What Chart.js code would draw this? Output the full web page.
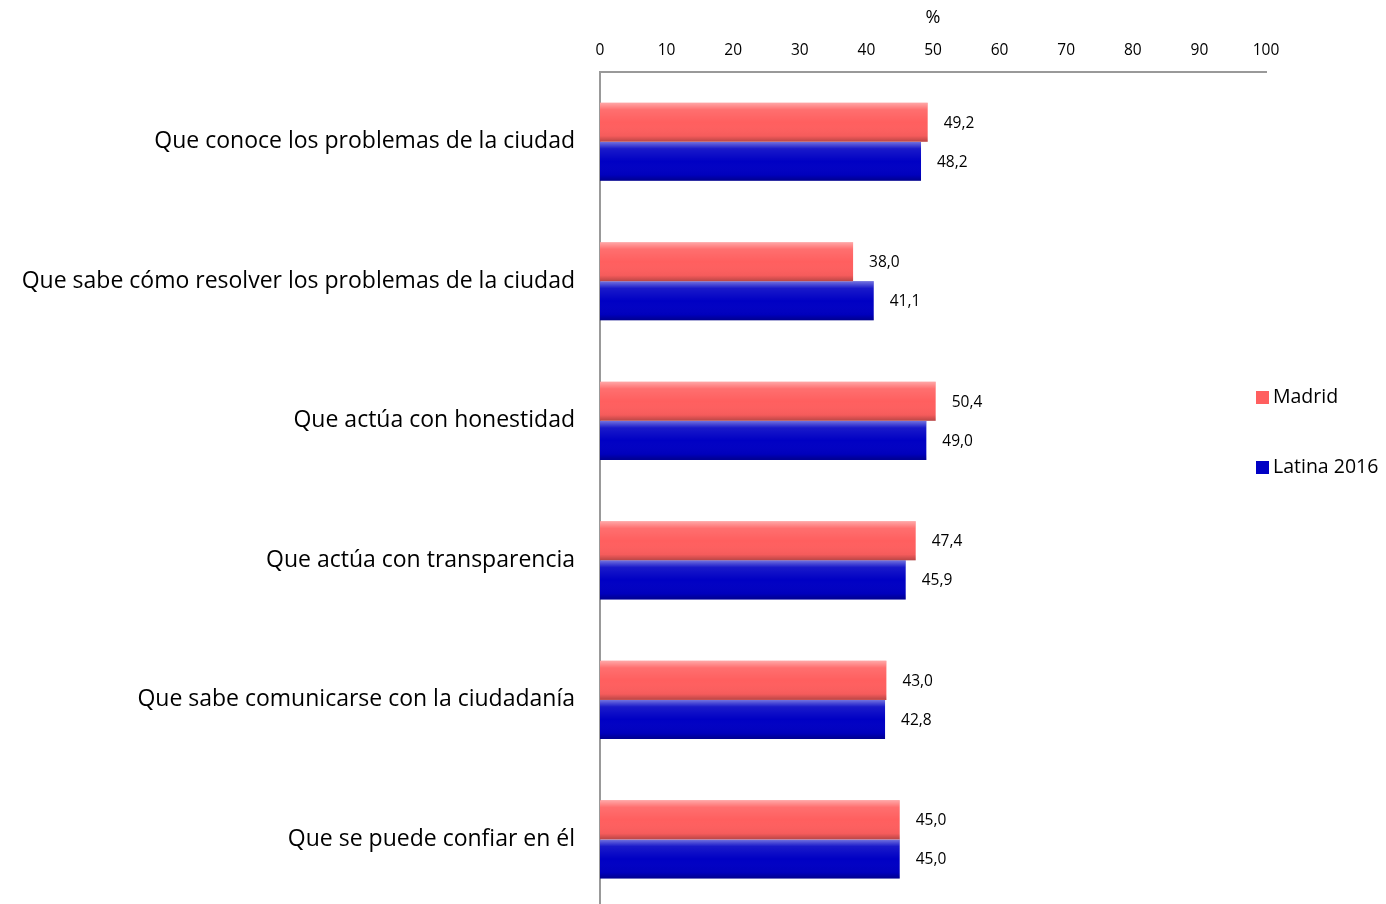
<!DOCTYPE html>
<html lang="es">
<head>
  <meta charset="UTF-8">
  <title>Valoración del alcalde</title>
  <script src="https://cdn.jsdelivr.net/npm/chart.js"></script>
  <style>
    html, body {
      margin: 0;
      padding: 0;
      background: #fff;
      overflow: hidden;
    }
    canvas { display: block; }
  </style>
</head>
<body>
  <canvas id="chart" width="1386" height="940"></canvas>

  <script>
    const categories = [
      'Que conoce los problemas de la ciudad',
      'Que sabe cómo resolver los problemas de la ciudad',
      'Que actúa con honestidad',
      'Que actúa con transparencia',
      'Que sabe comunicarse con la ciudadanía',
      'Que se puede confiar en él'
    ];
    const madrid = [49.2, 38.0, 50.4, 47.4, 43.0, 45.0];
    const latina = [48.2, 41.1, 49.0, 45.9, 42.8, 45.0];
    const seriesNames = ['Madrid', 'Latina 2016'];
    const seriesColors = ['#ff5f5f', '#0000c4'];
    const axisTicks = [0, 10, 20, 30, 40, 50, 60, 70, 80, 90, 100];

    const FONT = "'Open Sans', sans-serif";

    // brillo de las barras, etiquetas de valor y leyenda
    const barStyle = {
      id: 'barStyle',
      afterDatasetsDraw(chart) {
        const ctx = chart.ctx;
        ctx.save();
        chart.data.datasets.forEach((ds, di) => {
          const meta = chart.getDatasetMeta(di);
          meta.data.forEach((bar, i) => {
            const top = bar.y - bar.height / 2;
            const left = Math.min(bar.base, bar.x);
            const w = Math.abs(bar.x - bar.base);
            const g = ctx.createLinearGradient(0, top, 0, top + bar.height);
            g.addColorStop(0, 'rgba(255,255,255,0.45)');
            g.addColorStop(0.18, 'rgba(255,255,255,0.10)');
            g.addColorStop(0.5, 'rgba(255,255,255,0)');
            g.addColorStop(0.85, 'rgba(0,0,0,0.04)');
            g.addColorStop(1, 'rgba(0,0,0,0.28)');
            ctx.fillStyle = g;
            ctx.fillRect(left, top, w, bar.height);

            ctx.fillStyle = '#000';
            ctx.font = '15.5px ' + FONT;
            ctx.textAlign = 'left';
            ctx.textBaseline = 'middle';
            ctx.fillText(ds.data[i].toFixed(1).replace('.', ','), bar.x + 16, bar.y + 1);
          });
        });
        ctx.restore();
      },
      afterDraw(chart) {
        const ctx = chart.ctx;
        ctx.save();
        ctx.font = '19.5px ' + FONT;
        ctx.textBaseline = 'middle';
        ctx.textAlign = 'left';
        const ys = [397, 467];
        seriesNames.forEach((name, i) => {
          ctx.fillStyle = seriesColors[i];
          ctx.fillRect(1256, ys[i] - 6, 13, 13);
          ctx.fillStyle = '#000';
          ctx.fillText(name, 1273, ys[i]);
        });
        ctx.restore();
      }
    };

    new Chart(document.getElementById('chart'), {
      type: 'bar',
      data: {
        labels: categories,
        datasets: [
          {
            label: seriesNames[0],
            data: madrid,
            backgroundColor: seriesColors[0],
            borderWidth: 0
          },
          {
            label: seriesNames[1],
            data: latina,
            backgroundColor: seriesColors[1],
            borderWidth: 0
          }
        ]
      },
      options: {
        indexAxis: 'y',
        responsive: false,
        animation: false,
        layout: { padding: { top: 0, right: 120, bottom: 0, left: 0 } },
        datasets: {
          bar: { barPercentage: 1, categoryPercentage: 0.56 }
        },
        plugins: {
          legend: { display: false },
          tooltip: { enabled: false }
        },
        scales: {
          x: {
            position: 'top',
            min: 0,
            max: 100,
            afterBuildTicks: (scale) => {
              scale.ticks = axisTicks.map(v => ({ value: v }));
            },
            afterFit: (scale) => { scale.height = 72; },
            grid: { display: false },
            border: { display: true, color: '#999', width: 2 },
            ticks: {
              padding: 4,
              color: '#000',
              font: { family: FONT, size: 15.5 }
            },
            title: {
              display: true,
              text: '%',
              color: '#000',
              padding: { top: 7, bottom: 0 },
              font: { family: FONT, size: 18 }
            }
          },
          y: {
            afterFit: (scale) => { scale.width = 600; },
            grid: { display: false },
            border: { display: true, color: '#999', width: 2 },
            ticks: {
              padding: 17,
              color: '#000',
              font: { family: FONT, size: 23 }
            }
          }
        }
      },
      plugins: [barStyle]
    });
  </script>
</body>
</html>
